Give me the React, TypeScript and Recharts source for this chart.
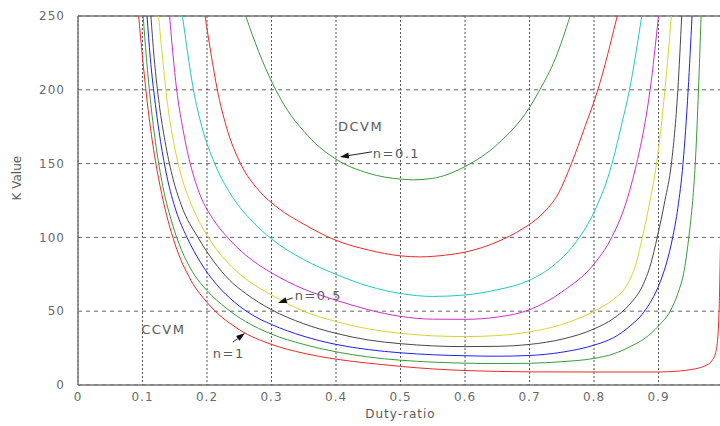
import {
  LineChart,
  Line,
  XAxis,
  YAxis,
  CartesianGrid,
  ReferenceLine,
  ReferenceDot,
} from 'recharts';

// duty-ratio ticks and K value ticks
const xTicks = [0, 0.1, 0.2, 0.3, 0.4, 0.5, 0.6, 0.7, 0.8, 0.9, 1];
const yTicks = [0, 50, 100, 150, 200, 250];

// [duty, K], one list per n
const n10: [number, number][] = [
  [0.094, 250], [0.1, 222], [0.11, 182], [0.12, 152], [0.13, 129], [0.15, 96],
  [0.175, 71], [0.2, 56], [0.25, 37.5], [0.3, 27.5], [0.35, 21.5], [0.4, 17.5],
  [0.45, 14.8], [0.5, 12.6], [0.55, 10.9], [0.6, 9.8], [0.65, 9.2], [0.7, 8.9],
  [0.8, 8.8], [0.9, 8.8], [0.93, 9.4], [0.95, 10.4], [0.965, 11.8], [0.975, 13.6],
  [0.983, 16.5], [0.988, 21], [0.991, 28], [0.993, 40], [0.995, 70], [0.997, 140], [0.998, 250],
];
const n08: [number, number][] = [
  [0.101, 250], [0.106, 222], [0.113, 190], [0.12, 165], [0.13, 138], [0.145, 111],
  [0.16, 92], [0.18, 75], [0.2, 64], [0.23, 52], [0.26, 43], [0.3, 34.5], [0.35, 27.5],
  [0.4, 22.5], [0.45, 19], [0.5, 16.8], [0.55, 15.5], [0.6, 14.8], [0.65, 14.5],
  [0.7, 14.7], [0.75, 15.8], [0.8, 18], [0.83, 21], [0.856, 26], [0.88, 32], [0.9, 40],
  [0.918, 50], [0.93, 62], [0.94, 78], [0.947, 100], [0.953, 125], [0.957, 150],
  [0.962, 200], [0.966, 250],
];
const n07: [number, number][] = [
  [0.107, 250], [0.112, 222], [0.12, 190], [0.128, 165], [0.138, 141], [0.152, 118],
  [0.169, 100], [0.19, 83], [0.215, 68], [0.243, 56], [0.27, 47.5], [0.3, 41],
  [0.35, 33], [0.4, 27.5], [0.45, 24], [0.5, 21.8], [0.55, 20.5], [0.6, 19.8],
  [0.65, 19.5], [0.7, 20], [0.75, 22.2], [0.8, 27], [0.83, 32], [0.856, 40], [0.88, 51],
  [0.9, 67], [0.912, 82], [0.922, 100], [0.93, 120], [0.938, 150], [0.946, 200], [0.952, 250],
];
const n06: [number, number][] = [
  [0.113, 250], [0.118, 222], [0.126, 190], [0.135, 165], [0.146, 142], [0.16, 122],
  [0.186, 100], [0.21, 84], [0.235, 71], [0.26, 62], [0.3, 51], [0.35, 41.5], [0.4, 35],
  [0.45, 30.5], [0.5, 28], [0.55, 26.5], [0.6, 26], [0.65, 26.2], [0.7, 27.5], [0.75, 31],
  [0.8, 38], [0.83, 45], [0.856, 55], [0.875, 67], [0.888, 82], [0.898, 100], [0.91, 125],
  [0.92, 150], [0.93, 200], [0.936, 250],
];
const n05: [number, number][] = [
  [0.125, 250], [0.131, 222], [0.139, 190], [0.148, 165], [0.16, 142], [0.178, 120],
  [0.202, 100], [0.23, 84], [0.26, 72], [0.3, 61], [0.35, 50], [0.4, 43], [0.45, 38],
  [0.5, 35], [0.55, 33.3], [0.6, 32.8], [0.65, 33.5], [0.7, 36], [0.75, 41], [0.8, 50],
  [0.83, 58], [0.85, 67], [0.865, 82], [0.875, 100], [0.887, 125], [0.897, 150],
  [0.91, 200], [0.92, 250],
];
const n04: [number, number][] = [
  [0.142, 250], [0.147, 225], [0.153, 200], [0.162, 175], [0.174, 150], [0.19, 128],
  [0.21, 112], [0.236, 98], [0.26, 88], [0.3, 76], [0.35, 65], [0.4, 57.5], [0.45, 51],
  [0.5, 46.5], [0.55, 44.6], [0.6, 44.5], [0.65, 46], [0.7, 51], [0.75, 63], [0.8, 82],
  [0.825, 98], [0.85, 124], [0.866, 150], [0.878, 175], [0.887, 200], [0.9, 250],
];
const n03: [number, number][] = [
  [0.162, 250], [0.17, 225], [0.179, 200], [0.192, 175], [0.212, 150], [0.24, 127],
  [0.27, 111], [0.3, 99], [0.35, 85], [0.4, 75], [0.45, 67], [0.5, 62], [0.55, 60],
  [0.6, 61], [0.65, 64.5], [0.7, 71], [0.74, 82], [0.774, 98], [0.8, 117], [0.828, 150],
  [0.842, 175], [0.855, 200], [0.874, 250],
];
const n02: [number, number][] = [
  [0.197, 250], [0.206, 225], [0.216, 200], [0.23, 175], [0.252, 150], [0.28, 132],
  [0.31, 120], [0.35, 109], [0.4, 98], [0.45, 91.5], [0.5, 87.5], [0.53, 86.8],
  [0.57, 88], [0.6, 90], [0.65, 97], [0.69, 106], [0.72, 116], [0.745, 130],
  [0.765, 150], [0.786, 175], [0.806, 200], [0.836, 250],
];
const n01: [number, number][] = [
  [0.26, 250], [0.28, 226], [0.302, 204], [0.325, 186], [0.35, 172], [0.375, 161],
  [0.4, 153], [0.45, 143.5], [0.5, 139.5], [0.52, 139], [0.55, 140], [0.6, 148],
  [0.65, 163], [0.7, 188], [0.716, 200], [0.74, 221], [0.763, 250],
];

const series = [
  { name: 'n=0.1', pts: n01, color: '#3a9a3a' },
  { name: 'n=0.2', pts: n02, color: '#f02828' },
  { name: 'n=0.3', pts: n03, color: '#20c8c8' },
  { name: 'n=0.4', pts: n04, color: '#cc30cc' },
  { name: 'n=0.5', pts: n05, color: '#d6d630' },
  { name: 'n=0.6', pts: n06, color: '#484848' },
  { name: 'n=0.7', pts: n07, color: '#2020f0' },
  { name: 'n=0.8', pts: n08, color: '#3a9a3a' },
  { name: 'n=1', pts: n10, color: '#f02828' },
];

const font = '"DejaVu Sans", Verdana, sans-serif';
const tickStyle = { fontSize: 12, fill: '#6a6a6a', fontFamily: font, letterSpacing: 1 };

function Arrow(props: any) {
  const { x1, y1, x2, y2 } = props;
  const a = Math.atan2(y2 - y1, x2 - x1);
  const len = 9;
  const w = 3;
  const bx = x2 - len * Math.cos(a);
  const by = y2 - len * Math.sin(a);
  const px = -Math.sin(a) * w;
  const py = Math.cos(a) * w;
  return (
    <g>
      <line x1={x1} y1={y1} x2={bx} y2={by} stroke="#222" strokeWidth={1} />
      <polygon points={`${x2},${y2} ${bx + px},${by + py} ${bx - px},${by - py}`} fill="#111" />
    </g>
  );
}

function note(text: string) {
  return (p: any) => (
    <text x={p.cx} y={p.cy} dy="0.35em" fontSize={13} fill="#5a5a5a" fontFamily={font} letterSpacing={1.5}>
      {text}
    </text>
  );
}

export default function App() {
  return (
    <div style={{ position: 'fixed', left: 0, top: 0, width: 720, height: 426, overflow: 'hidden', background: '#fff' }}>
      <LineChart width={733} height={426} margin={{ top: 16, right: 10, left: 0, bottom: 8 }}>
        <CartesianGrid horizontal vertical={false} stroke="#666" strokeDasharray="4 4" />
        <CartesianGrid horizontal={false} vertical stroke="#555" strokeDasharray="2 2" />
        <XAxis
          type="number"
          dataKey="d"
          domain={[0, 1]}
          ticks={xTicks}
          allowDataOverflow
          height={33}
          tickLine={false}
          tickMargin={1}
          axisLine={{ stroke: '#777', strokeWidth: 1.5 }}
          tick={tickStyle}
          label={{ value: 'Duty-ratio', position: 'insideBottom', offset: 0, fontSize: 12, fill: '#5a5a5a', fontFamily: font, letterSpacing: 1 }}
        />
        <YAxis
          type="number"
          domain={[0, 250]}
          ticks={yTicks}
          allowDataOverflow
          width={78}
          tickLine={false}
          tickMargin={7}
          axisLine={{ stroke: '#777', strokeWidth: 1.5 }}
          tick={tickStyle}
          label={{ value: 'K Value', angle: -90, position: 'insideLeft', offset: 17, fontSize: 12, fill: '#5a5a5a', fontFamily: font }}
        />
        <ReferenceLine y={250} stroke="#777" strokeWidth={1.5} />
        {series.map((s) => (
          <Line
            key={s.name}
            name={s.name}
            data={s.pts.map(([d, k]) => ({ d, k }))}
            dataKey="k"
            type="monotone"
            stroke={s.color}
            strokeWidth={1}
            dot={false}
            isAnimationActive={false}
          />
        ))}
        <ReferenceDot x={0.403} y={175} r={0} shape={note('DCVM')} />
        <ReferenceDot x={0.457} y={157} r={0} shape={note('n=0.1')} />
        <ReferenceLine segment={[{ x: 0.456, y: 158 }, { x: 0.406, y: 154.5 }]} shape={Arrow} />
        <ReferenceDot x={0.336} y={60.5} r={0} shape={note('n=0.5')} />
        <ReferenceLine segment={[{ x: 0.333, y: 59 }, { x: 0.31, y: 55.6 }]} shape={Arrow} />
        <ReferenceDot x={0.098} y={37.3} r={0} shape={note('CCVM')} />
        <ReferenceDot x={0.209} y={21.7} r={0} shape={note('n=1')} />
        <ReferenceLine segment={[{ x: 0.24, y: 29 }, { x: 0.259, y: 35.2 }]} shape={Arrow} />
      </LineChart>
    </div>
  );
}
